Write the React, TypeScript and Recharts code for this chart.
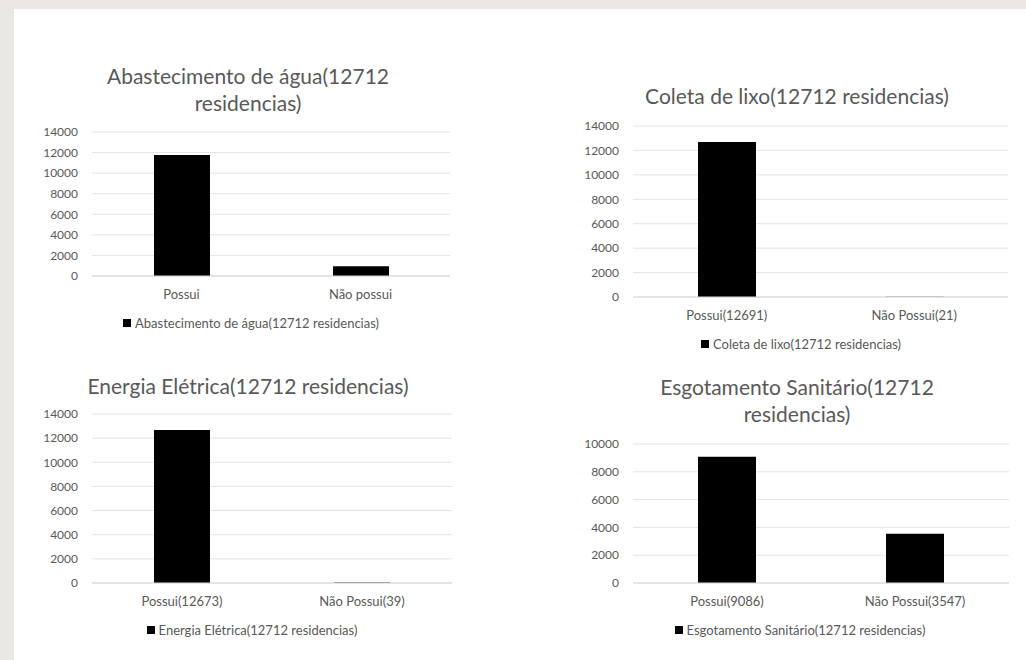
import React from 'react'
import { BarChart, Bar, XAxis, YAxis, CartesianGrid, Legend } from 'recharts'

// Household services survey, 12712 residences
const aguaCategories = ['Possui', 'Não possui']
const aguaValues = [11760, 952]

const lixoCategories = ['Possui(12691)', 'Não Possui(21)']
const lixoValues = [12691, 21]

const energiaCategories = ['Possui(12673)', 'Não Possui(39)']
const energiaValues = [12673, 39]

const esgotoCategories = ['Possui(9086)', 'Não Possui(3547)']
const esgotoValues = [9086, 3547]

const ticks14k = [0, 2000, 4000, 6000, 8000, 10000, 12000, 14000]
const ticks10k = [0, 2000, 4000, 6000, 8000, 10000]

const FONT = 'Lato, "Open Sans", sans-serif'
const TEXT = '#595959'

type Box = { left: number; top: number; width: number; height: number; right: number }

interface PanelProps {
  name: string
  titleLines: string[]
  titleX: number
  titleY: number
  categories: string[]
  values: number[]
  ticks: number[]
  box: Box
  legendX: number
  barSize: number
}

function Panel({ name, titleLines, titleX, titleY, categories, values, ticks, box, legendX, barSize }: PanelProps) {
  const data = categories.map((c, i) => ({ cat: c, value: values[i] }))
  const shift = legendX - (box.left + box.width / 2)

  const renderLegend = (props: any) => (
    <div style={{
      display: 'flex', justifyContent: 'center', alignItems: 'center', height: 24,
      fontFamily: FONT, fontSize: 13, color: TEXT, transform: `translateX(${shift}px)`,
    }}>
      {(props.payload ?? []).map((p: any) => (
        <span key={p.value} style={{ display: 'flex', alignItems: 'center' }}>
          <span style={{ display: 'inline-block', width: 8, height: 8, background: '#000', marginRight: 4 }} />
          {p.value}
        </span>
      ))}
    </div>
  )

  return (
    <>
      <div style={{
        position: 'absolute', left: titleX - 220, top: titleY - 14, width: 440,
        textAlign: 'center', fontFamily: FONT, fontSize: 21, lineHeight: '27px', color: TEXT,
      }}>
        {titleLines.map(l => <div key={l}>{l}</div>)}
      </div>
      <div style={{ position: 'absolute', left: box.left, top: box.top }}>
        <BarChart
          width={box.width}
          height={box.height}
          data={data}
          margin={{ top: 12, right: box.right, left: 0, bottom: 0 }}
        >
          <CartesianGrid vertical={false} stroke="#e4e4e4" />
          <XAxis
            dataKey="cat"
            height={35}
            tickLine={false}
            axisLine={{ stroke: '#d9d9d9' }}
            tickMargin={8}
            tick={{ fontSize: 13, fill: TEXT, fontFamily: FONT }}
          />
          <YAxis
            width={72}
            domain={[0, ticks[ticks.length - 1]]}
            ticks={ticks}
            interval={0}
            axisLine={false}
            tickLine={false}
            tickMargin={8}
            tick={{ fontSize: 12, fill: TEXT, fontFamily: FONT }}
          />
          <Legend
            verticalAlign="bottom"
            content={renderLegend}
            wrapperStyle={{ left: 0, width: box.width }}
          />
          <Bar dataKey="value" name={name} fill="#000" barSize={barSize} isAnimationActive={false} />
        </BarChart>
      </div>
    </>
  )
}

export default function App() {
  return (
    <div style={{ position: 'absolute', left: 0, top: 0, width: 1026, height: 660, background: '#ebe7e2', overflow: 'hidden' }}>
      <div style={{ position: 'absolute', left: 14, top: 9, right: 0, bottom: 0, background: '#fff' }} />
      <Panel
        name="Abastecimento de água(12712 residencias)"
        titleLines={['Abastecimento de água(12712', 'residencias)']}
        titleX={248} titleY={76}
        categories={aguaCategories} values={aguaValues} ticks={ticks14k}
        box={{ left: 20, top: 120, width: 450, height: 215, right: 20 }}
        legendX={251} barSize={56}
      />
      <Panel
        name="Coleta de lixo(12712 residencias)"
        titleLines={['Coleta de lixo(12712 residencias)']}
        titleX={797} titleY={96}
        categories={lixoCategories} values={lixoValues} ticks={ticks14k}
        box={{ left: 561, top: 114, width: 462, height: 242, right: 15 }}
        legendX={801} barSize={58}
      />
      <Panel
        name="Energia Elétrica(12712 residencias)"
        titleLines={['Energia Elétrica(12712 residencias)']}
        titleX={248} titleY={386}
        categories={energiaCategories} values={energiaValues} ticks={ticks14k}
        box={{ left: 20, top: 402, width: 450, height: 240, right: 18 }}
        legendX={252} barSize={56}
      />
      <Panel
        name="Esgotamento Sanitário(12712 residencias)"
        titleLines={['Esgotamento Sanitário(12712', 'residencias)']}
        titleX={797} titleY={387}
        categories={esgotoCategories} values={esgotoValues} ticks={ticks10k}
        box={{ left: 561, top: 432, width: 462, height: 210, right: 14 }}
        legendX={800} barSize={58}
      />
    </div>
  )
}
